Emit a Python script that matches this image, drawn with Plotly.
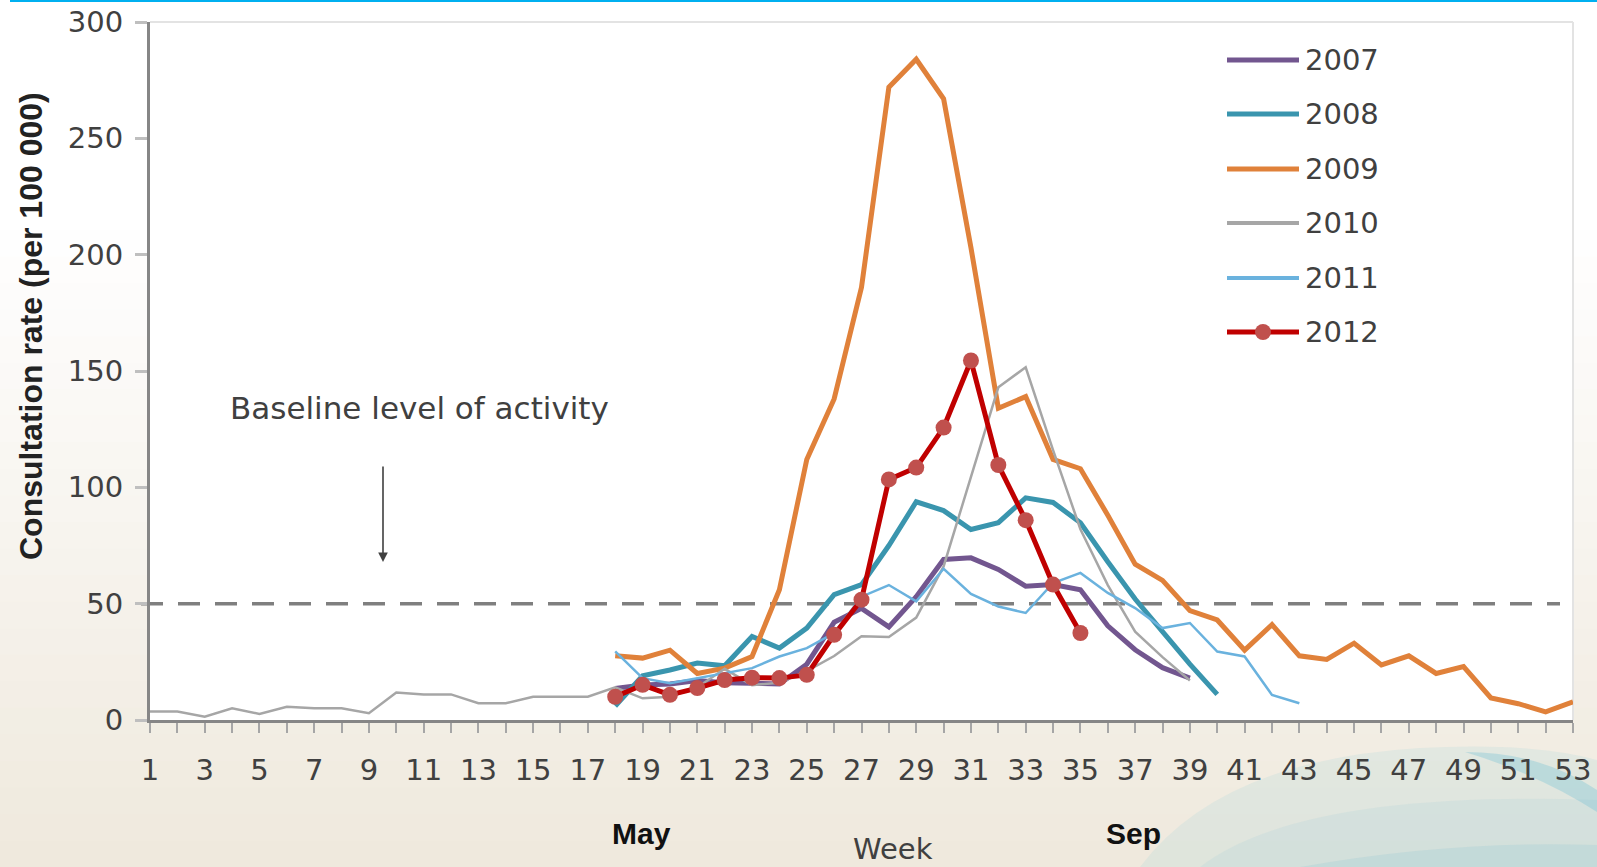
import plotly.graph_objects as go

# ---------------- data ----------------
years = ["2007", "2008", "2009", "2010", "2011", "2012"]

weeks_2007 = list(range(18, 40))
rate_2007 = [13.5, 15, 15.5, 17, 16, 15.8, 15.5, 24, 42, 48, 40, 53, 69, 69.7,
             64.7, 57.5, 58.2, 56, 40.5, 30.2, 22.5, 18]

weeks_2008 = list(range(18, 41))
rate_2008 = [6, 19, 21.5, 24.5, 23.3, 35.9, 30.9, 39.5, 53.9, 58.2, 75, 93.8, 90,
             81.9, 84.8, 95.5, 93.5, 84.8, 68, 52, 38, 24, 11]

weeks_2009 = list(range(18, 54))
rate_2009 = [27.6, 26.6, 30, 20, 22.3, 27.3, 56, 112, 138, 186,
             272, 284, 267, 203, 134, 139, 112, 108, 88, 67,
             60, 47, 43, 30, 41, 27.6, 26, 33, 23.7, 27.6,
             20, 23, 9.5, 7, 3.5, 7.8]

weeks_2010 = list(range(1, 40))
rate_2010 = [3.6, 3.6, 1.4, 5, 2.6, 5.7, 5, 5, 2.9, 11.8, 11, 11, 7.2, 7.2, 10, 10, 10,
             14, 9.3, 10, 14, 22, 15, 16, 21, 27.5, 36, 35.7, 44, 66, 105, 143,
             151.6, 116, 82, 58, 38, 27, 17]

weeks_2011 = list(range(18, 44))
rate_2011 = [29.5, 18, 15.8, 18, 20, 22.3, 27.3, 30.9, 37.4, 53, 58, 51, 65, 54.2,
             48.8, 46, 58.9, 63.2, 54.6, 48.1, 39.5, 41.7, 29.4, 27.3, 10.8, 7.2]

weeks_2012 = list(range(18, 36))
rate_2012 = [10, 15.1, 10.8, 13.7, 17.2, 18.2, 18, 19.4, 36.6, 51.7, 103.4, 108.5,
             125.7, 154.5, 109.6, 85.9, 58.2, 37.4]

baseline = 50
week_ticks = list(range(1, 54))
week_labels = [str(w) if w % 2 == 1 else "" for w in week_ticks]
y_ticks = [0, 50, 100, 150, 200, 250, 300]

# ---------------- styles ----------------
W, H = 1597, 867
ML, MR, MT, MB = 150, 24, 22, 147
PW, PH = W - ML - MR, H - MT - MB
FONT = "DejaVu Sans, Liberation Sans, sans-serif"
BFONT = "Liberation Sans, Arial, sans-serif"
TXT = "#404040"

styles = {
    "2007": dict(color="#72568F", width=5),
    "2008": dict(color="#3A95AE", width=5),
    "2009": dict(color="#E0813A", width=5),
    "2010": dict(color="#A6A6A6", width=2.5),
    "2011": dict(color="#6AB2DE", width=2.5),
    "2012": dict(color="#C00000", width=5),
}
series = {
    "2007": (weeks_2007, rate_2007),
    "2008": (weeks_2008, rate_2008),
    "2009": (weeks_2009, rate_2009),
    "2010": (weeks_2010, rate_2010),
    "2011": (weeks_2011, rate_2011),
    "2012": (weeks_2012, rate_2012),
}


def px(fx):
    return (fx - ML) / PW


def py(fy):
    return (H - MB - fy) / PH


fig = go.Figure()

for yr in years:
    x, y = series[yr]
    st = styles[yr]
    if yr == "2012":
        fig.add_trace(go.Scatter(x=x, y=y, mode="lines+markers", name=yr,
                                 line=dict(color=st["color"], width=st["width"]),
                                 marker=dict(size=16, color="#C0504D"),
                                 showlegend=False))
    else:
        fig.add_trace(go.Scatter(x=x, y=y, mode="lines", name=yr,
                                 line=dict(color=st["color"], width=st["width"]),
                                 showlegend=False))

shapes = []
# background gradient bands (paper)
n = 24
top_c = (255, 255, 255)
bot_c = (239, 233, 221)
start = 230
for i in range(n):
    y0 = start + (H - start) * i / n
    y1 = start + (H - start) * (i + 1) / n + 1
    t = (i + 0.5) / n
    c = tuple(int(top_c[k] + (bot_c[k] - top_c[k]) * t) for k in range(3))
    shapes.append(dict(type="rect", xref="paper", yref="paper", layer="below",
                       x0=px(0), x1=px(W), y0=py(y1), y1=py(y0),
                       fillcolor="rgb(%d,%d,%d)" % c, line=dict(width=0)))


def wave_path(pts):
    s = "M %f,%f " % (px(pts[0][0]), py(pts[0][1]))
    i = 1
    while i < len(pts):
        if pts[i] == "Q":
            s += "Q %f,%f %f,%f " % (px(pts[i + 1][0]), py(pts[i + 1][1]),
                                     px(pts[i + 2][0]), py(pts[i + 2][1]))
            i += 3
        else:
            s += "L %f,%f " % (px(pts[i][0]), py(pts[i][1]))
            i += 1
    return s + "Z"


# faint decorative waves bottom right
waves = [
    ([(1140, 867), "Q", (1220, 760), (1420, 748), "Q", (1530, 742), (1597, 760),
      (1597, 867)], "rgba(170,212,218,0.22)"),
    ([(1200, 867), "Q", (1300, 790), (1597, 800), (1597, 867)], "rgba(160,205,215,0.18)"),
    ([(1465, 752), "Q", (1540, 752), (1597, 790), (1597, 812), "Q", (1540, 775), (1465, 752)],
     "rgba(110,190,210,0.32)"),
    ([(1300, 867), "Q", (1450, 840), (1597, 845), (1597, 867)], "rgba(140,195,210,0.22)"),
]
for pts, col in waves:
    shapes.append(dict(type="path", xref="paper", yref="paper", layer="below",
                       path=wave_path(pts), fillcolor=col, line=dict(width=0)))
# white plot area
shapes.append(dict(type="rect", xref="paper", yref="paper", layer="below",
                   x0=0, x1=1, y0=0, y1=1, fillcolor="white", line=dict(width=0)))
# top and right border of plot area
shapes.append(dict(type="line", xref="paper", yref="paper", x0=0, x1=1, y0=1, y1=1,
                   line=dict(color="#E3E3E3", width=2), layer="below"))
shapes.append(dict(type="line", xref="paper", yref="paper", x0=1, x1=1, y0=0, y1=1,
                   line=dict(color="#E3E3E3", width=2), layer="below"))
# cyan line at top
shapes.append(dict(type="line", xref="paper", yref="paper", x0=px(10), x1=px(W),
                   y0=py(1), y1=py(1), line=dict(color="#00B0F0", width=2)))
# baseline dashed line
shapes.append(dict(type="line", xref="paper", yref="y", x0=px(141), x1=px(1560),
                   y0=baseline, y1=baseline,
                   line=dict(color="#7F7F7F", width=3.5, dash="22px,15px"), layer="below"))

# custom legend
annotations = []
leg_y = [60, 114, 169, 223, 278, 332]
for yr, ly in zip(years, leg_y):
    st = styles[yr]
    shapes.append(dict(type="line", xref="paper", yref="paper",
                       x0=px(1227), x1=px(1299), y0=py(ly), y1=py(ly),
                       line=dict(color=st["color"], width=max(st["width"], 4))))
    if yr == "2012":
        shapes.append(dict(type="circle", xref="paper", yref="paper",
                           x0=px(1255), x1=px(1271), y0=py(ly + 8), y1=py(ly - 8),
                           fillcolor="#C0504D", line=dict(width=0)))
    annotations.append(dict(xref="paper", yref="paper", x=px(1303), y=py(ly),
                            text=yr, showarrow=False, xanchor="left", yanchor="middle",
                            font=dict(family=FONT, size=29, color=TXT)))

annotations += [
    dict(xref="paper", yref="paper", x=px(228), y=py(408), text="Baseline level of activity",
         showarrow=False, xanchor="left", yanchor="middle",
         font=dict(family=FONT, size=31, color=TXT)),
    dict(xref="paper", yref="paper", x=px(383), y=py(562), ax=0, ay=-97, text="",
         showarrow=True, arrowhead=2, arrowsize=1.2, arrowwidth=1.6, arrowcolor=TXT),
    dict(xref="paper", yref="paper", x=px(641), y=py(833), text="<b>May</b>",
         showarrow=False, xanchor="center", yanchor="middle",
         font=dict(family=BFONT, size=30, color="#111111")),
    dict(xref="paper", yref="paper", x=px(1133), y=py(833), text="<b>Sep</b>",
         showarrow=False, xanchor="center", yanchor="middle",
         font=dict(family=BFONT, size=30, color="#111111")),
    dict(xref="paper", yref="paper", x=px(893), y=py(849), text="Week",
         showarrow=False, xanchor="center", yanchor="middle",
         font=dict(family=FONT, size=29, color=TXT)),
    dict(xref="paper", yref="paper", x=px(31), y=py(326),
         text="<b>Consultation rate (per 100 000)</b>", textangle=-90,
         showarrow=False, xanchor="center", yanchor="middle",
         font=dict(family=BFONT, size=32, color="#222222")),
]

fig.update_layout(
    width=W, height=H,
    margin=dict(l=ML, r=MR, t=MT, b=MB, pad=0, autoexpand=False),
    paper_bgcolor="white", plot_bgcolor="rgba(0,0,0,0)",
    shapes=shapes, annotations=annotations, showlegend=False,
    xaxis=dict(range=[1, 53], tickmode="array", tickvals=week_ticks, ticktext=week_labels,
               automargin=False,
               showgrid=False, zeroline=False, showline=True, linecolor="#868686", linewidth=3,
               ticks="outside", ticklen=10, tickwidth=2, tickcolor="#A6A6A6",
               ticklabelstandoff=12,
               tickfont=dict(family=FONT, size=29, color=TXT)),
    yaxis=dict(range=[0, 300], tickmode="array", tickvals=y_ticks,
               automargin=False,
               showgrid=False, zeroline=False, showline=True, linecolor="#868686", linewidth=3,
               ticks="outside", ticklen=12, tickwidth=2.5, tickcolor="#BFBFBF",
               ticklabelstandoff=6,
               tickfont=dict(family=FONT, size=29, color=TXT)),
)

fig.write_html("out.html", config={"displayModeBar": False},
               post_script="document.body.style.margin='0';document.body.style.overflow='hidden';")
